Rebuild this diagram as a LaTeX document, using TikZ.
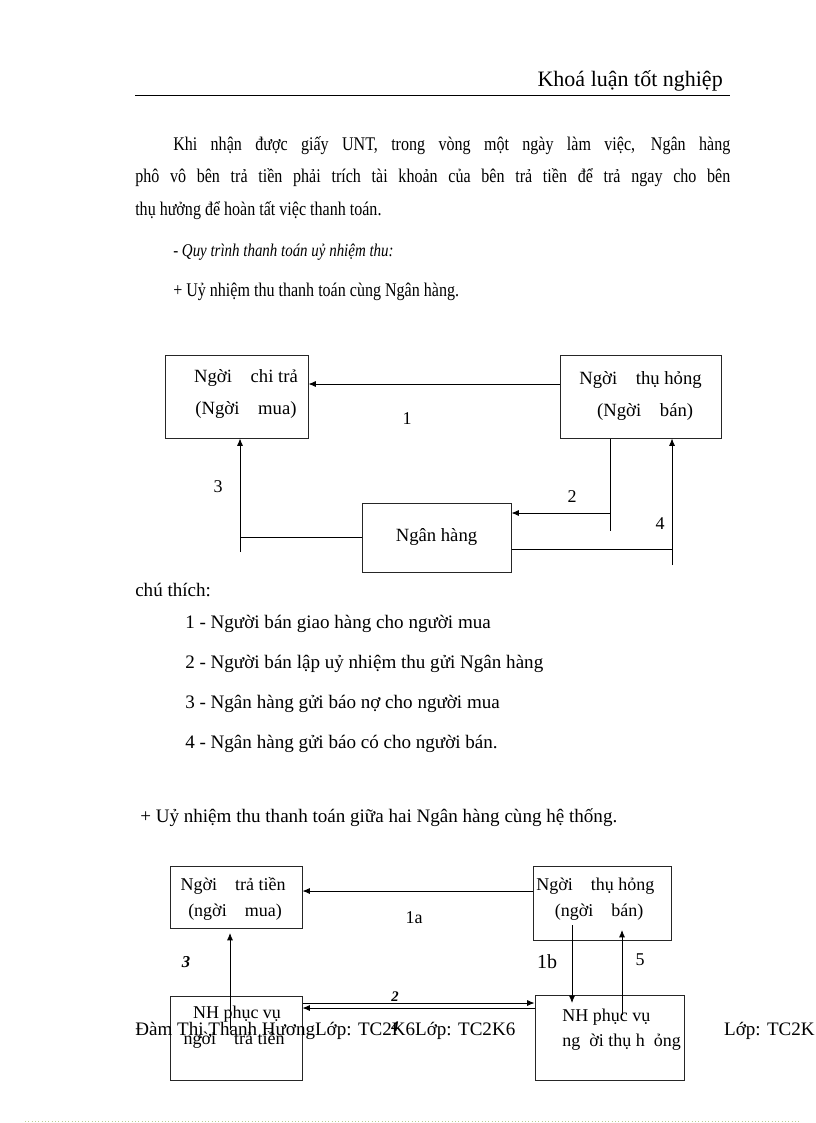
\documentclass[tikz,border=0pt]{standalone}
\usepackage{fontspec}
\setmainfont{Liberation Serif}
\newfontfamily\condfont[FakeStretch=0.83]{Liberation Serif}
\usetikzlibrary{arrows.meta,calc}
\begin{document}
\begin{tikzpicture}[x=0.75pt,y=-0.75pt,
  box/.style={draw=black!85, line width=0.75pt, inner sep=0pt, align=center, font=\fontsize{14pt}{24pt}\selectfont},
  txt/.style={inner sep=0pt, anchor=base west, font=\fontsize{14.5pt}{16pt}\condfont},
  note/.style={inner sep=0pt, anchor=base west, font=\fontsize{14.3pt}{16pt}\selectfont},
  lbl/.style={inner sep=0pt, font=\fontsize{13.5pt}{16pt}\selectfont},
  arr/.style={-{Latex[length=5.5pt,width=4.5pt]}, line width=0.6pt},
  ln/.style={line width=0.6pt}]
\useasboundingbox (0,0) rectangle (816,1123);
\clip (0,0) rectangle (816,1123);
\fill[white] (0,0) rectangle (816,1123);

% header
\node[inner sep=0pt, anchor=base east, font=\fontsize{16.5pt}{18pt}\selectfont] (hdr) at (723,87) {Khoá luận tốt nghiệp};
\draw[line width=0.7pt] (135,95) coordinate (hl) -- (730,95) coordinate (hr);

% paragraph
\node[txt] (p1) at (173,151) {\makebox[417.75pt][s]{Khi nhận được giấy UNT, trong vòng một ngày làm việc, Ngân hàng}};
\node[txt] (p2) at (135,183) {\makebox[446.25pt][s]{phô vô bên trả tiền phải trích tài khoản của bên trả tiền để trả ngay cho bên}};
\node[txt] (p3) at (135,215) {thụ hưởng để hoàn tất việc thanh toán.};
\node[txt, font=\fontsize{13.5pt}{15pt}\condfont\itshape] (p4) at (173,257) {- Quy trình thanh toán uỷ nhiệm thu:};
\node[txt] (p5) at (173,296) {+ Uỷ nhiệm thu thanh toán cùng Ngân hàng.};

% diagram 1
\node[box, minimum width=107.25pt, minimum height=62.25pt] (A) at (236.5,396.5) {};
\node[lbl, font=\fontsize{14pt}{24pt}\selectfont, align=center] (At) at (246,394) {Ngời\quad chi trả\\(Ngời\quad mua)};
\node[box, minimum width=120.75pt, minimum height=62.25pt] (B) at (640.5,396.5) {Ngời\quad thụ hỏng\\\ \ (Ngời\quad bán)};
\node[box, minimum width=111.75pt, minimum height=51.75pt] (C) at (436.5,537.5) {Ngân hàng};

\draw[arr] ($(B.west)+(0,-12.5)$) -- ($(A.east)+(0,-12.5)$);
\node[lbl] (l1) at (407,419) {1};

\coordinate (j2) at (610,513);
\draw[ln] (B.south -| j2) -- ++(0,92) coordinate (e2);
\draw[arr] (j2) -- (C.east |- j2);
\node[lbl] (l2) at (572,497) {2};

\coordinate (j4) at (672,549);
\draw[arr] ($(j4)+(0,16)$) coordinate (e4) -- (B.south -| j4);
\draw[ln] (C.east |- j4) -- (j4);
\node[lbl] (l4) at (660,524) {4};

\coordinate (j3) at (240,537);
\draw[arr] ($(j3)+(0,15)$) coordinate (e3) -- (A.south -| j3);
\draw[ln] (C.west |- j3) -- (j3);
\node[lbl] (l3) at (218,487) {3};

% notes
\node[note] (n0) at (135,596) {chú thích:};
\node[note] (n1) at (185,628) {1 - Người bán giao hàng cho người mua};
\node[note] (n2) at (185,668) {2 - Người bán lập uỷ nhiệm thu gửi Ngân hàng};
\node[note] (n3) at (185,708) {3 - Ngân hàng gửi báo nợ cho người mua};
\node[note] (n4) at (185,748) {4 - Ngân hàng gửi báo có cho người bán.};
\node[note] (n5) at (140,822) {+ Uỷ nhiệm thu thanh toán giữa hai Ngân hàng cùng hệ thống.};

% diagram 2
\node[box, minimum width=99pt, minimum height=46.5pt] (D) at (236,897) {};
\node[lbl] (Dt1) at (233,886) {Ngời\quad trả tiền};
\node[lbl] (Dt2) at (235,912) {(ngời\quad mua)};
\node[box, minimum width=103.5pt, minimum height=55.5pt] (E) at (602,903) {};
\node[lbl, anchor=west] (Et1) at (536,886) {Ngời\quad thụ hỏng};
\node[lbl] (Et2) at (599,912) {(ngời\quad bán)};
\node[box, minimum width=99pt, minimum height=63pt] (F) at (236,1038) {};
\node[lbl] (Ft1) at (237,1014) {NH phục vụ};
\node[lbl] (Ft2) at (234,1040) {ngời\quad trả tiền};
\node[box, minimum width=111.75pt, minimum height=63.75pt] (G) at (609.5,1037.5) {};
\node[lbl, anchor=west] (Gt1) at (562,1017) {NH phục vụ};
\node[lbl, anchor=west] (Gt2) at (562,1042) {ng\ \ ời thụ h\ \ ỏng};

\draw[arr] ($(E.west)+(0,-12)$) -- ($(D.east)+(0,-6)$);
\node[lbl] (l1a) at (414,918) {1a};

\draw[arr] (F.center -| 230,0) ++(0,-8) -- (230,933);
\node[lbl, font=\fontsize{12.5pt}{15pt}\selectfont\bfseries\itshape] (l3b) at (186,962) {3};

\draw[arr] (F.east |- 0,1003) -- (G.west |- 0,1003);
\draw[arr] (G.west |- 0,1008) -- (F.east |- 0,1008);
\node[lbl, font=\fontsize{11pt}{13pt}\selectfont\bfseries\itshape] (l2b) at (395,997) {2};
\node[lbl, font=\fontsize{11pt}{13pt}\selectfont\bfseries\itshape] (l4b) at (395,1027) {4};

\draw[arr] (572,925) -- (572,1003);
\node[lbl, font=\fontsize{15pt}{16pt}\selectfont] (l1b) at (547,962) {1b};
\draw[arr] (622,1015) -- (622,930);
\node[lbl] (l5) at (640,960) {5};

% footer
\node[note] (f1) at (135,1035) {Đàm Thị Thanh HươngLớp: TC2K6Lớp: TC2K6};
\node[note, anchor=base east] (f2) at (815,1035) {Lớp: TC2K};

\draw[green!25!pink, dotted, line width=0.5pt] (25,1121) coordinate (d1) -- (800,1121) coordinate (d2);
\end{tikzpicture}
\end{document}
